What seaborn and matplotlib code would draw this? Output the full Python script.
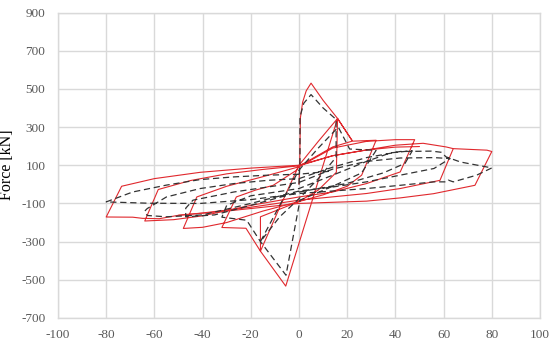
import matplotlib
matplotlib.use("Agg")
import matplotlib.pyplot as plt
import seaborn as sns
import pandas as pd

# ---- data (displacement [mm], force [kN]) ----
# Experimental curve (red, solid)
red_x = [0, 0.3, 0.6, 1.5, 3, 5, 10, 16,
         15.5, 8, 0, -10, -16, -16,
         -8, 0, 8, 16, 22, 16,
         -5.5, -16, -22, -32,
         -26, -18, -10.7, -1, 0, 14, 22, 32,
         26, 20, 10, 0, -15, -30, -40, -48,
         -42.4, -30, -15, 0, 14, 28, 40, 48,
         42, 28, 14, 0, -20, -40, -52, -64,
         -58.4, -45, -30, -15, 0, 14, 28, 40, 51.5, 61, 64,
         58.5, 42, 28, 0, -20, -40, -50, -58, -65, -69, -80,
         -73.6, -60, -41, -20, 0, 14, 28, 40, 50]
red_y = [0, 120, 350, 430, 490, 530, 440, 345,
         63, -30, -90, -140, -170, -350,
         -120, 100, 225, 345, 230, 345,
         -533, -350, -230, -226,
         -66, -30, -5, 74, 95, 196, 226, 231,
         48, -10, -55, -90, -140, -200, -225, -231,
         -66, -10, 40, 92, 190, 225, 234, 234,
         65, 4, -40, -66, -110, -165, -185, -192,
         -27, 20, 55, 78, 97, 150, 180, 205, 215, 196, 187,
         21, -22, -48, -83, -120, -150, -162, -180, -178, -172, -171,
         -10, 30, 63, 85, 100, 150, 180, 195, 198]

# unloading branch from the +80 mm peak
red2_x = [64, 78, 80, 73, 55.8, 42, 28, 0, -30, -50]
red2_y = [187, 179, 172, -5, -49, -71, -88, -100, -140, -162]

# Numerical model (black, dashed)
black_x = [0, 0.4, 0.4, 2, 5, 10, 15.4,
           15.4, 8, 0, -8, -16,
           -8, 0, 8, 16.3, 21, 32,
           26, 14, 0.4, -5.4, -16, -21.7, -32,
           -30, -20, 0, 14, 28, 38, 47,
           44, 35, 20, 0, -20, -35, -47,
           -47, -44, -27, -13, 0, 14, 28, 42, 56, 62.7,
           56, 42, 28, 14, 0, -20, -40, -55, -63, -64, -63,
           -55, -41, -27, -13, 0, 14, 28, 42, 55, 59, 61, 67, 80,
           73.7, 64, 62, 61.5, 56, 42, 28, 0, -20, -41, -62, -80,
           -69, -55, -41, -27, -13, 0, 14]
black_y = [0, 126, 353, 425, 470, 400, 340,
           142, 30, -75, -170, -300,
           -110, 75, 190, 300, 185, 178,
           60, -10, -83, -476, -300, -188, -172,
           -110, -60, -22, 48, 120, 165, 176,
           110, 60, 5, -40, -110, -160, -170,
           -125, -83, -40, -14, 10, 80, 120, 138, 140, 135,
           83, 48, 13, -14, -35, -100, -160, -170, -163, -140, -127,
           -66, -22, 4, 21, 30, 90, 140, 172, 174, 168, 144, 117, 86,
           48, 13, 22, 13, 13, -5, -22, -48, -80, -100, -99, -92,
           -40, -4, 25, 39, 48, 53, 70]

x_ticks = [-100, -80, -60, -40, -20, 0, 20, 40, 60, 80, 100]
y_ticks = [-700, -500, -300, -100, 100, 300, 500, 700, 900]
y_label = "Force [kN]"

red_df = pd.DataFrame({"x": red_x, "y": red_y})
red2_df = pd.DataFrame({"x": red2_x, "y": red2_y})
black_df = pd.DataFrame({"x": black_x, "y": black_y})

sns.set_theme(style="white")
plt.rcParams["font.family"] = ["Liberation Serif", "DejaVu Serif"]

fig = plt.figure(figsize=(5.49, 3.45), dpi=100)
ax = fig.add_axes([58 / 549, 1 - 318 / 345, (540 - 58) / 549, (318 - 12.5) / 345])

red = "#e0282d"
sns.lineplot(data=red_df, x="x", y="y", sort=False, estimator=None,
             color=red, linewidth=0.8, ax=ax)
sns.lineplot(data=red2_df, x="x", y="y", sort=False, estimator=None,
             color=red, linewidth=0.8, ax=ax)
sns.lineplot(data=black_df, x="x", y="y", sort=False, estimator=None,
             color="#333333", linewidth=0.9, linestyle=(0, (5, 3)), ax=ax)

ax.set_xlim(-100, 100)
ax.set_ylim(-700, 900)
ax.set_xticks(x_ticks)
ax.set_yticks(y_ticks)
ax.set_xticklabels([str(t) for t in x_ticks])
ax.set_yticklabels([str(t) for t in y_ticks])
ax.grid(True, color="#d9d9d9", linewidth=1.0)
ax.set_axisbelow(True)
for s in ax.spines.values():
    s.set_color("#d9d9d9")
    s.set_linewidth(1.0)
ax.tick_params(axis="both", length=0, labelsize=9.5, labelcolor="#595959")
ax.tick_params(axis="y", pad=9)
ax.tick_params(axis="x", pad=8)
ax.set_xlabel("")
ax.set_ylabel("")
fig.text(0.012, 1 - 165 / 345, y_label, rotation=90, ha="center", va="center",
         fontsize=11.5, color="#000000")

fig.savefig("out.png", dpi=100)
